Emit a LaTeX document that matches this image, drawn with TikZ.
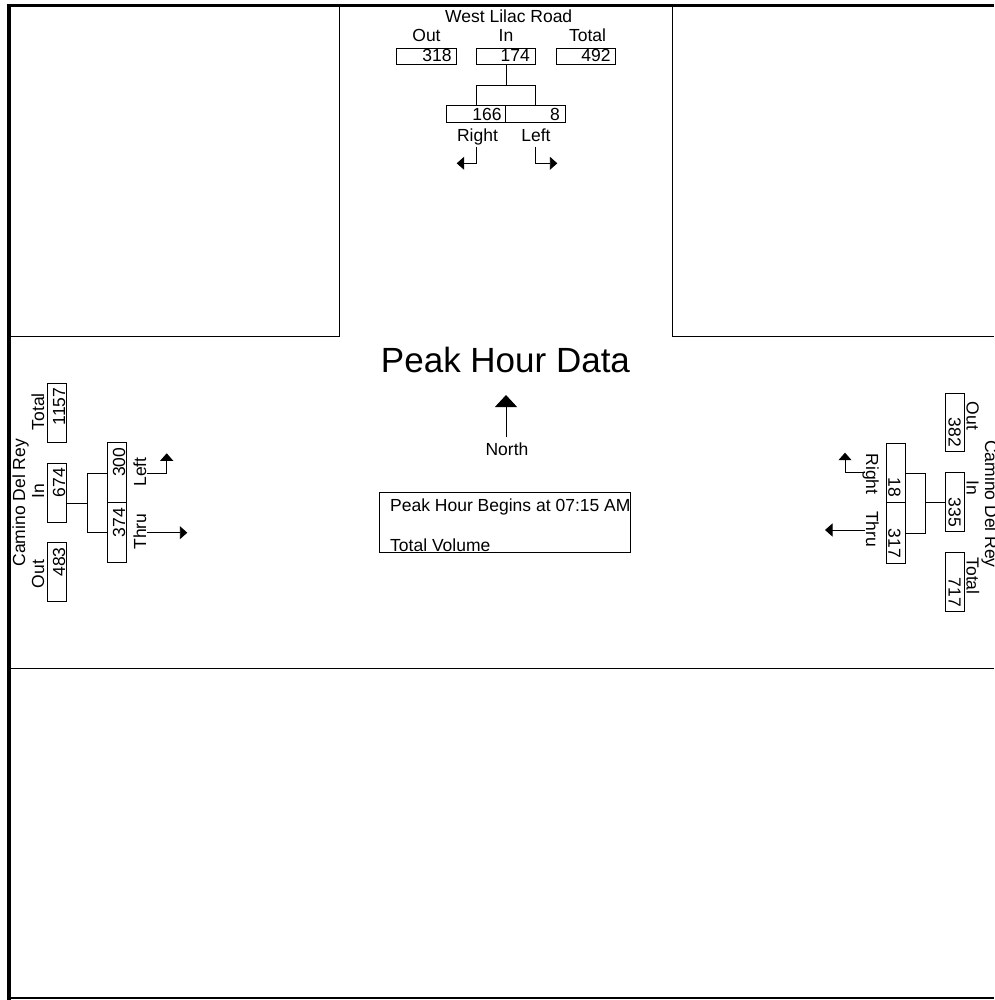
\documentclass[tikz,border=0pt]{standalone}
\usepackage{fontspec}
\setmainfont{Liberation Sans}
\usetikzlibrary{arrows.meta}
\begin{document}
\begin{tikzpicture}[x=1pt,y=-1pt,
  lbl/.style={inner sep=0pt, font=\fontsize{17.5}{20}\selectfont, anchor=base},
  lblup/.style={lbl, rotate=90},
  lbldn/.style={lbl, rotate=-90},
  numup/.style={lbl, rotate=90, anchor=base east},
  numdn/.style={lbl, rotate=-90, anchor=base east},
  numbox/.style={draw, line width=0.9pt, inner sep=0pt, minimum width=#1},
  numbox/.default=60pt,
  road/.style={line width=0.9pt},
  wire/.style={line width=0.9pt},
  arr/.style={line width=0.9pt, -{Triangle[length=7.5pt,width=13pt]}},
]
\useasboundingbox (0,0) rectangle (994,1000);
% frame
\draw[line width=3.3pt] (6.7,5.7) -- (994,5.7);
\draw[line width=4pt] (8.7,3.9) -- (8.7,1000);
\draw[line width=2pt] (8.7,998.3) -- (994,998.3);
% road edges
\draw[road] (339.5,7) -- (339.5,336.5) -- (10.5,336.5);
\draw[road] (672.3,7) -- (672.3,336.5) -- (994,336.5);
\draw[road] (10.5,668.7) -- (994,668.7);

% ---------- top approach ----------
\node[lbl] (tname) at (508.7,22.7) {West Lilac Road};
\node[lbl] (tOutL) at (426.5,41.7) {Out};
\node[lbl] (tInL) at (506,41.7) {In};
\node[lbl] (tTotL) at (587.5,41.7) {Total};
\node[numbox=60pt, minimum height=15.7pt] (tOut) at (426.7,56.2) {};
\node[numbox=59pt, minimum height=15.7pt] (tIn) at (506,56.2) {};
\node[numbox=59.7pt, minimum height=15.7pt] (tTot) at (585.9,56.2) {};
\node[lbl, anchor=base east] (tOutN) at (451.7,61.7) {318};
\node[lbl, anchor=base east] (tInN) at (530,61.7) {174};
\node[lbl, anchor=base east] (tTotN) at (610.7,61.7) {492};
\node[numbox=59pt, minimum height=17.3pt] (tR) at (476.2,113.65) {};
\node[numbox=59.3pt, minimum height=17.3pt] (tL) at (535.35,113.65) {};
\node[lbl, anchor=base east] (tRN) at (501.7,120.7) {166};
\node[lbl, anchor=base east] (tLN) at (560,120.7) {8};
\node[lbl] (tRL) at (477.5,141.7) {Right};
\node[lbl] (tLL) at (536,141.7) {Left};
\coordinate (tj) at (506,85);
\coordinate (tjL) at (476,85);
\coordinate (tjR) at (535,85);
\draw[wire] (tIn.south) -- (tj);
\draw[wire] (tR.north -| tjL) -- (tjL) -- (tjR) -- (tL.north -| tjR);
\coordinate (tRa) at (476.7,146.7);
\coordinate (tRb) at (476.7,163.3);
\coordinate (tRc) at (456.7,163.3);
\coordinate (tLa) at (535.7,146.7);
\coordinate (tLb) at (535.7,163.3);
\coordinate (tLc) at (557.3,163.3);
\draw[arr] (tRa) -- (tRb) -- (tRc);
\draw[arr] (tLa) -- (tLb) -- (tLc);

% ---------- centre ----------
\node[inner sep=0pt, anchor=base, font=\fontsize{35}{40}\selectfont] (title) at (505.5,372.3) {Peak Hour Data};
\coordinate (nTail) at (506,437.3);
\coordinate (nTip) at (506,395);
\draw[line width=0.9pt, -{Triangle[length=12pt,width=22pt]}] (nTail) -- (nTip);
\node[lbl] (north) at (507,455) {North};
\node[draw, line width=0.9pt, minimum width=251.7pt, minimum height=60pt, inner sep=0pt] (info) at (504.85,522.7) {};
\node[lbl, anchor=base west] (infoA) at (390,511.7) {Peak Hour Begins at 07:15 AM};
\node[lbl, anchor=base west] (infoB) at (390,551.2) {Total Volume};

% ---------- left approach ----------
\node[lblup] (lname) at (25.2,502.7) {Camino Del Rey};
\node[lblup] (lOutL) at (44,574) {Out};
\node[lblup] (lInL) at (44,491.5) {In};
\node[lblup] (lTotL) at (44,411.7) {Total};
\node[numbox=19pt, minimum height=59pt] (lOut) at (57.2,572.2) {};
\node[numbox=19pt, minimum height=59pt] (lIn) at (57.2,493) {};
\node[numbox=19pt, minimum height=59pt] (lTot) at (57.2,412.5) {};
\node[numup] (lOutN) at (65,547.2) {483};
\node[numup] (lInN) at (65,468) {674};
\node[numup] (lTotN) at (65,387.5) {1157};
\node[numbox=19.4pt, minimum height=60.4pt] (lLeft) at (117,472.5) {};
\node[numbox=19.4pt, minimum height=59.6pt] (lThru) at (117,532.5) {};
\node[numup] (lLeftN) at (125,447.5) {300};
\node[numup] (lThruN) at (125,508) {374};
\node[lblup] (lLeftL) at (146,472) {Left};
\node[lblup] (lThruL) at (146,531.5) {Thru};
\coordinate (lj) at (87.3,503.3);
\coordinate (ljT) at (87.3,473.3);
\coordinate (ljB) at (87.3,532.3);
\draw[wire] (lIn.east |- lj) -- (lj);
\draw[wire] (lLeft.west |- ljT) -- (ljT) -- (ljB) -- (lThru.west |- ljB);
\coordinate (lLa) at (146.7,473.3);
\coordinate (lLb) at (166.7,473.3);
\coordinate (lLc) at (166.7,453.3);
\coordinate (lTa) at (146.7,532.7);
\coordinate (lTb) at (187.3,532.7);
\draw[arr] (lLa) -- (lLb) -- (lLc);
\draw[arr] (lTa) -- (lTb);

% ---------- right approach ----------
\node[lbldn] (rname) at (985,504) {Camino Del Rey};
\node[lbldn] (rOutL) at (966.7,416) {Out};
\node[lbldn] (rInL) at (966.7,488) {In};
\node[lbldn] (rTotL) at (966.7,576) {Total};
\node[numbox=19.3pt, minimum height=58.4pt] (rOut) at (954.7,422.5) {};
\node[numbox=19.3pt, minimum height=59pt] (rIn) at (954.7,502.2) {};
\node[numbox=19.3pt, minimum height=59pt] (rTot) at (954.7,582.2) {};
\node[numdn] (rOutN) at (948.5,447) {382};
\node[numdn] (rInN) at (948.5,527) {335};
\node[numdn] (rTotN) at (948.5,607) {717};
\node[numbox=19pt, minimum height=59.4pt] (rRight) at (895.5,473) {};
\node[numbox=19pt, minimum height=60.6pt] (rThru) at (895.5,533) {};
\node[numdn] (rRightN) at (888.3,497.5) {18};
\node[numdn] (rThruN) at (888.3,558) {317};
\node[lbldn] (rRightL) at (866,474) {Right};
\node[lbldn] (rThruL) at (866,529) {Thru};
\coordinate (rj) at (925,502.7);
\coordinate (rjT) at (925,473.3);
\coordinate (rjB) at (925,533.3);
\draw[wire] (rIn.west |- rj) -- (rj);
\draw[wire] (rRight.east |- rjT) -- (rjT) -- (rjB) -- (rThru.east |- rjB);
\coordinate (rRa) at (865,472.7);
\coordinate (rRb) at (845,472.7);
\coordinate (rRc) at (845,452.7);
\coordinate (rTa) at (865,530);
\coordinate (rTb) at (825,530);
\draw[arr] (rRa) -- (rRb) -- (rRc);
\draw[arr] (rTa) -- (rTb);
\end{tikzpicture}
\end{document}
